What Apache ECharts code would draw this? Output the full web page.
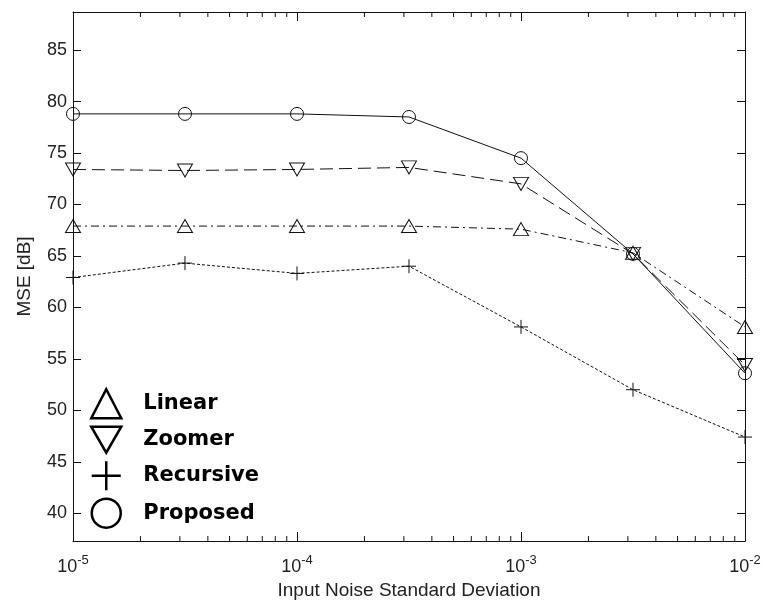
<!DOCTYPE html>
<html>
<head>
<meta charset="utf-8">
<script src="https://cdn.jsdelivr.net/npm/echarts@6/dist/echarts.min.js"></script>
<style>
html,body{margin:0;padding:0;background:#fff;}
#chart{width:765px;height:605px;}
</style>
</head>
<body>
<div id="chart"></div>
<script>
// ---- data ----
const noiseStd = [1e-5, 3.162e-5, 1e-4, 3.162e-4, 1e-3, 3.162e-3, 1e-2];
const linearMSE = [67.9, 67.9, 67.9, 67.9, 67.6, 65.3, 58.1];
const zoomerMSE = [73.4, 73.3, 73.4, 73.6, 72.0, 65.2, 54.4];
const recursiveMSE = [62.9, 64.3, 63.3, 64.0, 58.1, 52.0, 47.4];
const proposedMSE = [78.8, 78.8, 78.8, 78.5, 74.5, 65.2, 53.6];
const seriesNames = ['Linear', 'Zoomer', 'Recursive', 'Proposed'];
const xMinorTicks = [2e-5, 3e-5, 4e-5, 5e-5, 6e-5, 7e-5, 8e-5, 9e-5,
                     2e-4, 3e-4, 4e-4, 5e-4, 6e-4, 7e-4, 8e-4, 9e-4,
                     2e-3, 3e-3, 4e-3, 5e-3, 6e-3, 7e-3, 8e-3, 9e-3];
const X_MIN = 1e-5, X_MAX = 1e-2;
const Y_MIN = 37.3, Y_MAX = 88.7;

const TXT = '#222';
const LINE = '#111';
const labelFont = 'Liberation Sans, Arial, sans-serif';

const plusPath = 'path://M0,5L10,5M5,0L5,10';
const downTri = 'path://M0,0L10,0L5,8.66Z';

function pairs(ys) { return noiseStd.map((x, i) => [x, ys[i]]); }

const hollow = { color: 'rgba(0,0,0,0)', borderColor: LINE, borderWidth: 1 };
const legendStyle = { color: 'rgba(0,0,0,0)', borderColor: '#000', borderWidth: 2.5 };

const chart = echarts.init(document.getElementById('chart'));
chart.setOption({
  animation: false,
  backgroundColor: '#fff',
  grid: { left: 73, right: 20, top: 12, bottom: 64, containLabel: false },
  xAxis: [{
    type: 'log', logBase: 10, min: X_MIN, max: X_MAX, position: 'bottom',
    name: 'Input Noise Standard Deviation', nameLocation: 'middle', nameGap: 40,
    nameTextStyle: { fontFamily: labelFont, fontSize: 19, color: TXT },
    axisLine: { lineStyle: { color: LINE, width: 1 } },
    axisTick: { inside: true, length: 9, lineStyle: { color: LINE } },
    splitLine: { show: false },
    axisLabel: {
      margin: 13,
      formatter: function (v) {
        const e = Math.round(Math.log10(v));
        return '{b|10}{s|' + e + '}';
      },
      rich: {
        b: { fontFamily: labelFont, fontSize: 18, color: TXT },
        s: { fontFamily: labelFont, fontSize: 13, color: TXT, padding: [0, 0, 13, 0] }
      }
    }
  }, {
    type: 'log', logBase: 10, min: X_MIN, max: X_MAX, position: 'top',
    axisLine: { lineStyle: { color: LINE, width: 1 } },
    axisTick: { inside: true, length: 9, lineStyle: { color: LINE } },
    axisLabel: { show: false }, splitLine: { show: false }
  }],
  yAxis: [{
    type: 'value', min: Y_MIN, max: Y_MAX, splitNumber: 10, position: 'left',
    name: 'MSE [dB]', nameLocation: 'middle', nameGap: 39, nameRotate: 90,
    nameTextStyle: { fontFamily: labelFont, fontSize: 19, color: TXT },
    axisLine: { show: true, lineStyle: { color: LINE, width: 1 } },
    axisTick: { show: true, inside: true, length: 8, lineStyle: { color: LINE } },
    splitLine: { show: false },
    axisLabel: {
      fontFamily: labelFont, fontSize: 18, color: TXT, margin: 6,
      formatter: v => (Math.abs(v % 5) < 1e-6 ? String(Math.round(v)) : '')
    }
  }, {
    type: 'value', min: Y_MIN, max: Y_MAX, splitNumber: 10, position: 'right',
    axisLine: { show: true, lineStyle: { color: LINE, width: 1 } },
    axisTick: { show: true, inside: true, length: 8, lineStyle: { color: LINE } },
    splitLine: { show: false }, axisLabel: { show: false }
  }],
  legend: {
    orient: 'vertical', left: 90, top: 388, padding: 0,
    itemWidth: 30, itemHeight: 29, itemGap: 6,
    textStyle: { fontFamily: 'DejaVu Sans', fontWeight: 'bold', fontSize: 21, color: '#000', padding: [0, 0, 0, 17] },
    data: [
      { name: seriesNames[0], icon: 'triangle', itemStyle: legendStyle },
      { name: seriesNames[1], icon: downTri, itemStyle: legendStyle },
      { name: seriesNames[2], icon: plusPath, itemStyle: legendStyle },
      { name: seriesNames[3], icon: 'circle', itemStyle: legendStyle }
    ]
  },
  series: [
    {
      name: seriesNames[0], type: 'line', data: pairs(linearMSE),
      symbol: 'triangle', symbolSize: [15, 13], symbolKeepAspect: false,
      lineStyle: { color: LINE, width: 1, type: [8, 4, 2, 4] }, itemStyle: hollow, z: 3
    },
    {
      name: seriesNames[1], type: 'line', data: pairs(zoomerMSE),
      symbol: downTri, symbolSize: [15, 13], symbolKeepAspect: false,
      lineStyle: { color: LINE, width: 1, type: [13, 6] }, itemStyle: hollow, z: 3
    },
    {
      name: seriesNames[2], type: 'line', data: pairs(recursiveMSE),
      symbol: plusPath, symbolSize: 14,
      lineStyle: { color: LINE, width: 1, type: [3, 2] }, itemStyle: hollow, z: 3
    },
    {
      name: seriesNames[3], type: 'line', data: pairs(proposedMSE),
      symbol: 'circle', symbolSize: 13,
      lineStyle: { color: LINE, width: 1, type: 'solid' }, itemStyle: hollow, z: 3
    },
    {
      name: 'minorTicks', type: 'custom', silent: true, clip: false, z: 2,
      data: xMinorTicks.map(v => [v, Y_MIN]),
      renderItem: function (params, api) {
        const v = api.value(0);
        const pb = api.coord([v, Y_MIN]);
        const pt = api.coord([v, Y_MAX]);
        return {
          type: 'group', children: [
            { type: 'line', shape: { x1: pb[0], y1: pb[1], x2: pb[0], y2: pb[1] - 5 }, style: { stroke: LINE, lineWidth: 1 } },
            { type: 'line', shape: { x1: pt[0], y1: pt[1], x2: pt[0], y2: pt[1] + 5 }, style: { stroke: LINE, lineWidth: 1 } }
          ]
        };
      }
    }
  ]
});
</script>
</body>
</html>
